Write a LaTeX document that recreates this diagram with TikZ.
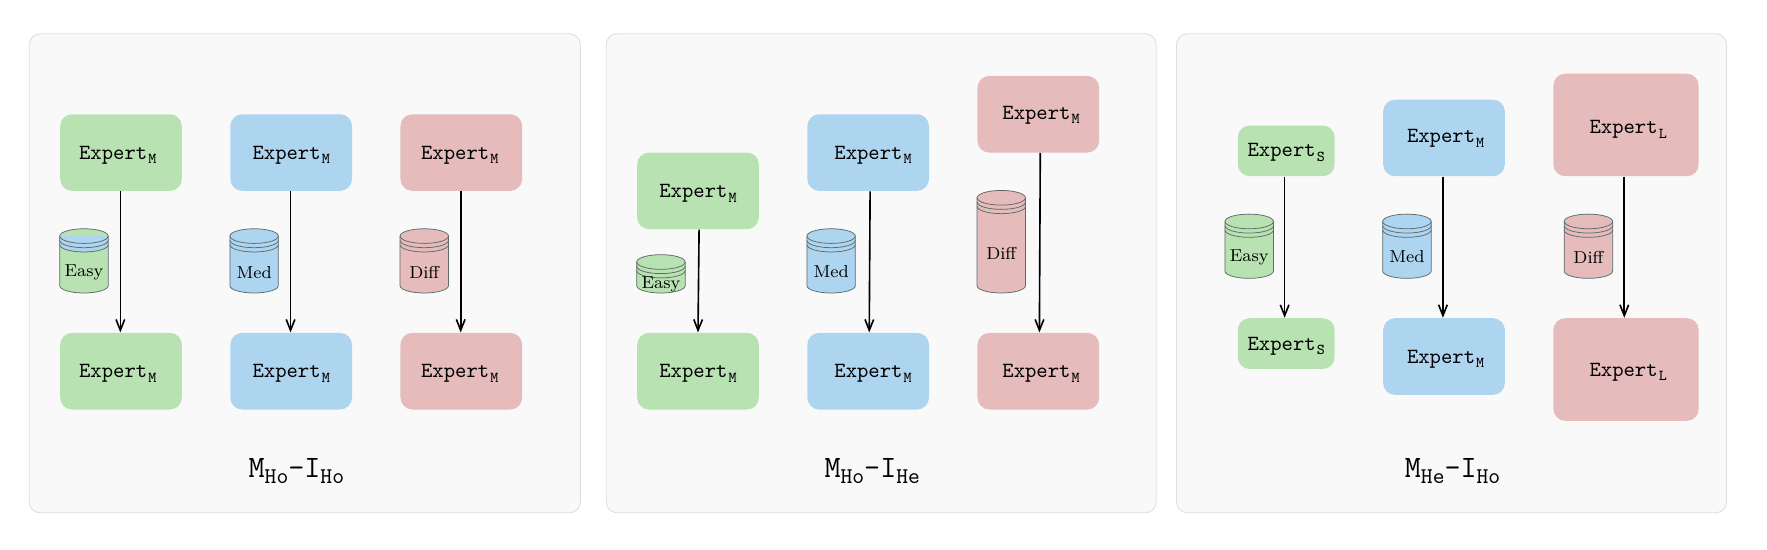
\documentclass[tikz,border=0pt]{standalone}
\usetikzlibrary{arrows.meta}
\definecolor{gbox}{HTML}{B9E2B3}
\definecolor{bbox}{HTML}{AED5F0}
\definecolor{rbox}{HTML}{E5BBBB}
\definecolor{pfill}{HTML}{F9F9F9}
\definecolor{pline}{HTML}{DEDEDE}
\definecolor{cylline}{HTML}{5F6B6B}
\tikzset{
 x=0.521pt,y=-0.521pt,
 panel/.style={draw=pline,fill=pfill,line width=0.4pt,rounded corners=5pt},
 expert/.style={rounded corners=5.5pt,inner sep=0pt,anchor=north west,text height=6.1pt,text depth=0pt,font=\fontsize{10}{12}\selectfont\ttfamily},
 flow/.style={line width=0.75pt,-{Straight Barb[length=5pt,width=4pt,line width=0.75pt]}},
 title/.style={font=\Large\ttfamily,inner sep=0pt},
 cyl/.style={draw=cylline,line width=0.35pt},
 cyllabel/.style={font=\footnotesize,inner sep=0pt}
}
\newcommand{\exper}[2]{\hspace*{#1}Expert\kern0.5pt\raisebox{-0.5ex}{\fontsize{7}{7}\selectfont #2}}
\newcommand{\ttl}[4]{#1\raisebox{-0.5ex}{\fontsize{10.4}{12}\selectfont #2}-#3\raisebox{-0.5ex}{\fontsize{10.4}{12}\selectfont #4}}
\newcommand{\bx}[8]{\node[expert,fill=#6,minimum width=#4*0.521pt,minimum height=#5*0.521pt] (#1) at (#2,#3) {\exper{#7}{#8}};}
\newcommand{\cy}[8]{%
 \path[fill=#5] (#2,#3+6.5) arc[x radius=21.5,y radius=6.5,start angle=180,end angle=360] -- (#2+43,#4-6.5) arc[x radius=21.5,y radius=6.5,start angle=0,end angle=180] -- cycle;
 \path[fill=#6] (#2,#3+6.5) -- (#2+43,#3+6.5) -- (#2+43,#3+14.1) arc[x radius=21.5,y radius=6.5,start angle=0,end angle=180] -- cycle;
 \draw[cyl] (#2,#3+6.5) arc[x radius=21.5,y radius=6.5,start angle=180,end angle=360] -- (#2+43,#4-6.5) arc[x radius=21.5,y radius=6.5,start angle=0,end angle=180] -- cycle;
 \draw[cyl] (#2,#3+6.5) arc[x radius=21.5,y radius=6.5,start angle=180,end angle=0];
 \draw[cyl] (#2,#3+10.3) arc[x radius=21.5,y radius=6.5,start angle=180,end angle=0];
 \draw[cyl] (#2,#3+14.1) arc[x radius=21.5,y radius=6.5,start angle=180,end angle=0];
 \node[cyllabel] (#1) at (#2+21.5,#8) {#7};}
\begin{document}
\begin{tikzpicture}
\useasboundingbox (0,0) rectangle (1568,487.2);
\fill[white] (0,0) rectangle (1568,487.2);
\draw[panel] (26,30) rectangle (515,455);
\draw[panel] (538,30) rectangle (1026,455);
\draw[panel] (1044,30) rectangle (1532,455);
% panel 1
\bx{aa}{53}{101}{108}{68}{gbox}{-3pt}{M}
\bx{ab}{204}{101}{108}{68}{bbox}{0pt}{M}
\bx{ac}{355}{101}{108}{68}{rbox}{-1.5pt}{M}
\bx{ad}{53}{295}{108}{68}{gbox}{-3pt}{M}
\bx{ae}{204}{295}{108}{68}{bbox}{0pt}{M}
\bx{af}{355}{295}{108}{68}{rbox}{-1.5pt}{M}
\draw[flow] ([xshift=-0.3pt]aa.south) -- ([xshift=-0.3pt]ad.north);
\draw[flow] ([xshift=-0.3pt]ab.south) -- ([xshift=-0.3pt]ae.north);
\draw[flow] ([xshift=-0.3pt]ac.south) -- ([xshift=-0.3pt]af.north);
\cy{ca}{53}{203}{260}{gbox}{bbox}{Easy}{242}
\cy{cb}{204}{203}{260}{bbox}{bbox}{Med}{242}
\cy{cc}{355}{203}{260}{rbox}{rbox}{Diff}{242}
\node[title] (ta) at (263,418) {\ttl{M}{Ho}{I}{Ho}};
% panel 2
\bx{ba}{565}{135}{108}{68}{gbox}{0pt}{M}
\bx{bb}{716}{101}{108}{68}{bbox}{4.5pt}{M}
\bx{bc}{867}{67}{108}{68}{rbox,text depth=1.5pt}{2.5pt}{M}
\bx{bd}{565}{295}{108}{68}{gbox}{0pt}{M}
\bx{be}{716}{295}{108}{68}{bbox}{4.5pt}{M}
\bx{bf}{867}{295}{108}{68}{rbox}{2.5pt}{M}
\draw[flow] ([xshift=0.5pt]ba.south) -- (bd.north);
\draw[flow] ([xshift=0.9pt]bb.south) -- ([xshift=0.5pt]be.north);
\draw[flow] ([xshift=0.9pt]bc.south) -- ([xshift=0.5pt]bf.north);
\cy{da}{565}{226}{260}{gbox}{gbox}{Easy}{252}
\cy{db}{716}{203}{260}{bbox}{bbox}{Med}{241}
\cy{dc}{867}{169}{260}{rbox}{rbox}{Diff}{225}
\node[title] (tb) at (774,418) {\ttl{M}{Ho}{I}{He}};
% panel 3
\bx{ca1}{1098}{111}{86}{45}{gbox,text depth=1pt}{0pt}{S}
\bx{cb1}{1227}{88}{108}{68}{bbox,text depth=2pt}{1.5pt}{M}
\bx{cc1}{1378}{65}{129}{91}{rbox,text height=8.1pt}{2pt}{L}
\bx{cd1}{1098}{282}{86}{45}{gbox}{0pt}{S}
\bx{ce1}{1227}{282}{108}{68}{bbox}{1.5pt}{M}
\bx{cf1}{1378}{282}{129}{91}{rbox}{2pt}{L}
\draw[flow] ([xshift=-0.75pt]ca1.south) -- ([xshift=-0.75pt]cd1.north);
\draw[flow] ([xshift=-0.5pt]cb1.south) -- ([xshift=-0.5pt]ce1.north);
\draw[flow] ([xshift=-0.8pt]cc1.south) -- ([xshift=-0.8pt]cf1.north);
\cy{ea}{1087}{190}{247}{gbox}{gbox}{Easy}{228}
\cy{eb}{1227}{190}{247}{bbox}{bbox}{Med}{228}
\cy{ec}{1388}{190}{247}{rbox}{rbox}{Diff}{228}
\node[title] (tc) at (1289,418) {\ttl{M}{He}{I}{Ho}};
\end{tikzpicture}
\end{document}
